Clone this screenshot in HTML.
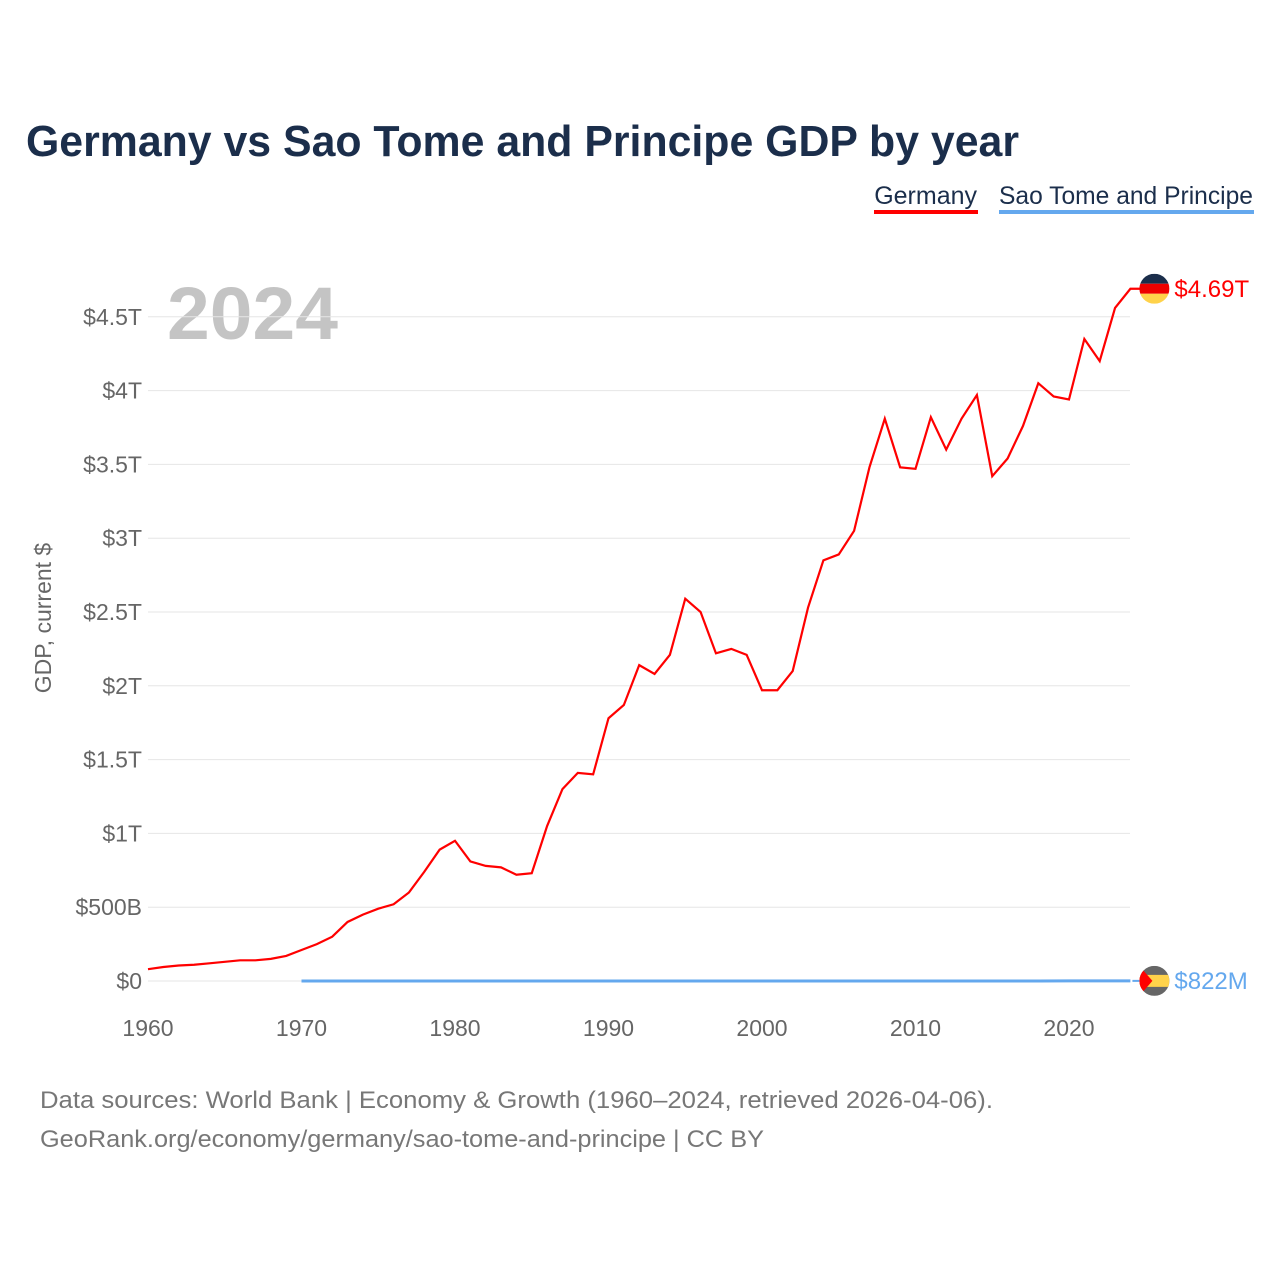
<!DOCTYPE html>
<html><head><meta charset="utf-8"><style>
body{margin:0;background:#fff;width:1280px;height:1280px;overflow:hidden;font-family:"Liberation Sans",sans-serif}
svg text{font-family:"Liberation Sans",sans-serif}
</style></head><body>
<svg id="c" width="1280" height="1280">
<text x="26" y="156" font-size="44" font-weight="bold" fill="#1b2e4b" textLength="993" lengthAdjust="spacingAndGlyphs">Germany vs Sao Tome and Principe GDP by year</text>
<g><text x="977" y="204" font-size="25" fill="#1b2e4b" text-anchor="end">Germany</text><rect x="874" y="210" width="104" height="4" fill="#ff0000"/></g>
<g><text x="1253" y="204" font-size="25" fill="#1b2e4b" text-anchor="end" textLength="254" lengthAdjust="spacingAndGlyphs">Sao Tome and Principe</text><rect x="999" y="210" width="255" height="4" fill="#64a8ee"/></g>
<text x="167" y="339" font-size="74" font-weight="bold" fill="#c4c4c4" textLength="171" lengthAdjust="spacingAndGlyphs">2024</text>
<text transform="translate(51,618) rotate(-90)" font-size="23" fill="#666" text-anchor="middle">GDP, current $</text>
<g id="grid"></g><g id="yt"></g><g id="xt"></g><g id="lines"></g>
<text x="40" y="1108" font-size="24" fill="#777" textLength="953" lengthAdjust="spacingAndGlyphs">Data sources: World Bank | Economy &amp; Growth (1960–2024, retrieved 2026-04-06).</text>
<text x="40" y="1147" font-size="24" fill="#777" textLength="724" lengthAdjust="spacingAndGlyphs">GeoRank.org/economy/germany/sao-tome-and-principe | CC BY</text>
</svg>
<script>
const years=[];for(let y=1960;y<=2024;y++)years.push(y);
const germany=[0.08,0.095,0.105,0.11,0.12,0.13,0.14,0.14,0.15,0.17,0.21,0.25,0.30,0.40,0.45,0.49,0.52,0.60,0.74,0.89,0.95,0.81,0.78,0.77,0.72,0.73,1.05,1.30,1.41,1.40,1.78,1.87,2.14,2.08,2.21,2.59,2.50,2.22,2.25,2.21,1.97,1.97,2.10,2.53,2.85,2.89,3.05,3.48,3.81,3.48,3.47,3.82,3.60,3.81,3.97,3.42,3.54,3.76,4.05,3.96,3.94,4.35,4.20,4.56,4.69];
const stpYears=[1970,1975,1980,1985,1990,1995,2000,2005,2010,2014,2015,2018,2020,2022,2024];
const stp=[0.00002,0.00004,0.00005,0.00006,0.00006,0.00005,0.00008,0.00013,0.0002,0.0003,0.0003,0.0004,0.0005,0.0006,0.000822];
const yTicks=[0,0.5,1,1.5,2,2.5,3,3.5,4,4.5];
const yTickLabels=["$0","$500B","$1T","$1.5T","$2T","$2.5T","$3T","$3.5T","$4T","$4.5T"];
const xTicks=[1960,1970,1980,1990,2000,2010,2020];
const X=y=>148+(y-1960)*(921/60);
const Y=v=>981-v*147.6;
const ns="http://www.w3.org/2000/svg";
function mk(t,a,p){const e=document.createElementNS(ns,t);for(const k in a)e.setAttribute(k,a[k]);p.appendChild(e);return e;}
const grid=document.getElementById('grid'),yt=document.getElementById('yt'),xt=document.getElementById('xt'),L=document.getElementById('lines');
yTicks.forEach((v,i)=>{
 const g=mk('line',{x1:148,x2:1130,y1:Y(v),y2:Y(v),stroke:'#e6e6e6','stroke-width':1},grid);
 
 
 const t=mk('text',{x:142,y:Y(v)+8,'font-size':23,fill:'#666','text-anchor':'end'},yt);t.textContent=yTickLabels[i];
 
 
});
xTicks.forEach(v=>{
 const t=mk('text',{x:X(v),y:1036,'font-size':23,fill:'#666','text-anchor':'middle'},xt);t.textContent=v;
 
 
});
const s=mk('polyline',{points:stpYears.map((y,i)=>X(y)+','+Y(stp[i])).join(' '),fill:'none',stroke:'#64a8ee','stroke-width':3},L);


const gl=germany[germany.length-1];
const p=mk('polyline',{points:years.map((y,i)=>X(y)+','+Y(germany[i])).join(' ')+' '+(X(2024)+10)+','+Y(gl),fill:'none',stroke:'#ff0000','stroke-width':2.2},L);


const fx=X(2024)+24,fy=Y(gl);
const fg=mk('g',{},L);


mk('clipPath',{id:'cg'},fg);mk('circle',{cx:fx,cy:fy,r:15},fg.lastChild);
mk('rect',{x:fx-15,y:fy-15,width:30,height:10,fill:'#1b2e4b','clip-path':'url(#cg)'},fg);
mk('rect',{x:fx-15,y:fy-5,width:30,height:10,fill:'#ee0000','clip-path':'url(#cg)'},fg);
mk('rect',{x:fx-15,y:fy+5,width:30,height:10,fill:'#ffd24a','clip-path':'url(#cg)'},fg);
const gt=mk('text',{x:fx+20,y:fy+8,'font-size':24,fill:'#ff0000'},L);gt.textContent='$4.69T';


const sy=Y(stp[stp.length-1]);
const sc=mk('line',{x1:X(2024)+2,x2:fx-15,y1:sy,y2:sy,stroke:'#64a8ee','stroke-width':2},L);


const sg=mk('g',{},L);


mk('clipPath',{id:'cs'},sg);mk('circle',{cx:fx,cy:sy,r:15},sg.lastChild);
mk('rect',{x:fx-15,y:sy-15,width:30,height:30,fill:'#666','clip-path':'url(#cs)'},sg);
mk('rect',{x:fx-15,y:sy-6,width:30,height:12,fill:'#ffd24a','clip-path':'url(#cs)'},sg);
mk('polygon',{points:`${fx-15},${sy-15} ${fx-2},${sy} ${fx-15},${sy+15}`,fill:'#ff0000','clip-path':'url(#cs)'},sg);
const st=mk('text',{x:fx+20,y:sy+8,'font-size':24,fill:'#64a8ee'},L);st.textContent='$822M';


</script>
</body></html>
